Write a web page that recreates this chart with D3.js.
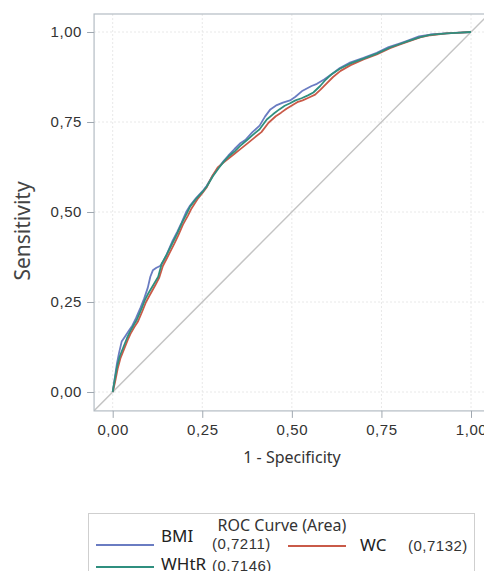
<!DOCTYPE html>
<html>
<head>
<meta charset="utf-8">
<script src="https://cdn.jsdelivr.net/npm/d3@7"></script>
<style>
  html, body { margin: 0; padding: 0; background: #fff; }
  svg { display: block; }
</style>
</head>
<body>
<svg id="chart" width="484" height="571"></svg>
<script>
// ROC curves: points are [1 - specificity, sensitivity]
const seriesNames = ["BMI", "WC", "WHtR"];
const seriesAreas = ["0,7211", "0,7132", "0,7146"];
const seriesColors = ["#6a7cc2", "#c95a48", "#2f8f7f"];

const bmiPoints = [[0,0],[0.006,0.04],[0.012,0.08],[0.018,0.11],[0.025,0.14],[0.035,0.155],[0.045,0.17],[0.055,0.185],[0.065,0.205],[0.078,0.235],[0.088,0.26],[0.098,0.29],[0.105,0.32],[0.112,0.338],[0.122,0.345],[0.132,0.35],[0.14,0.36],[0.152,0.385],[0.167,0.42],[0.18,0.445],[0.192,0.47],[0.205,0.5],[0.216,0.518],[0.232,0.538],[0.25,0.557],[0.262,0.572],[0.28,0.602],[0.295,0.623],[0.31,0.642],[0.323,0.657],[0.34,0.675],[0.355,0.69],[0.37,0.7],[0.39,0.722],[0.41,0.74],[0.425,0.765],[0.44,0.785],[0.458,0.797],[0.475,0.804],[0.495,0.81],[0.51,0.82],[0.53,0.837],[0.555,0.85],[0.57,0.856],[0.59,0.868],[0.61,0.882],[0.634,0.9],[0.66,0.914],[0.7,0.928],[0.737,0.942],[0.77,0.958],[0.8,0.968],[0.82,0.975],[0.855,0.988],[0.886,0.993],[0.93,0.996],[0.97,0.998],[1,1]];

const wcPoints = [[0,0],[0.006,0.025],[0.014,0.065],[0.022,0.095],[0.032,0.12],[0.042,0.145],[0.05,0.162],[0.06,0.18],[0.07,0.195],[0.083,0.225],[0.093,0.25],[0.104,0.27],[0.118,0.295],[0.13,0.318],[0.14,0.35],[0.153,0.375],[0.172,0.412],[0.183,0.435],[0.196,0.465],[0.21,0.49],[0.22,0.51],[0.236,0.535],[0.25,0.552],[0.262,0.568],[0.278,0.6],[0.293,0.624],[0.31,0.638],[0.325,0.65],[0.34,0.662],[0.358,0.676],[0.378,0.692],[0.395,0.706],[0.415,0.722],[0.435,0.748],[0.455,0.766],[0.47,0.776],[0.485,0.787],[0.5,0.796],[0.515,0.805],[0.53,0.81],[0.548,0.818],[0.565,0.826],[0.58,0.84],[0.598,0.858],[0.615,0.875],[0.636,0.892],[0.664,0.908],[0.7,0.924],[0.737,0.938],[0.774,0.955],[0.8,0.965],[0.82,0.972],[0.858,0.985],[0.886,0.991],[0.932,0.996],[0.97,0.998],[1,1]];

const whtrPoints = [[0,0],[0.005,0.03],[0.012,0.07],[0.02,0.1],[0.03,0.125],[0.04,0.15],[0.048,0.167],[0.058,0.185],[0.067,0.2],[0.08,0.23],[0.09,0.256],[0.1,0.275],[0.115,0.3],[0.127,0.32],[0.137,0.357],[0.15,0.38],[0.169,0.418],[0.18,0.44],[0.193,0.469],[0.207,0.496],[0.216,0.515],[0.234,0.538],[0.25,0.555],[0.262,0.57],[0.28,0.6],[0.295,0.621],[0.31,0.64],[0.323,0.654],[0.34,0.668],[0.355,0.683],[0.375,0.7],[0.392,0.715],[0.41,0.73],[0.43,0.757],[0.448,0.772],[0.465,0.785],[0.48,0.795],[0.495,0.802],[0.51,0.81],[0.527,0.816],[0.545,0.824],[0.56,0.832],[0.579,0.85],[0.595,0.868],[0.61,0.882],[0.634,0.898],[0.662,0.912],[0.7,0.926],[0.737,0.94],[0.774,0.957],[0.8,0.966],[0.82,0.973],[0.858,0.986],[0.886,0.992],[0.932,0.996],[0.97,0.998],[1,1]];

const tickValues = [0, 0.25, 0.5, 0.75, 1];
const tickLabels = ["0,00", "0,25", "0,50", "0,75", "1,00"];

const curves = [
  { name: seriesNames[0], area: seriesAreas[0], color: seriesColors[0], points: bmiPoints },
  { name: seriesNames[1], area: seriesAreas[1], color: seriesColors[1], points: wcPoints },
  { name: seriesNames[2], area: seriesAreas[2], color: seriesColors[2], points: whtrPoints }
];

const svg = d3.select("#chart");

// plot frame spans -0.052 .. 1.05 on both axes
const x = d3.scaleLinear().domain([0, 1]).range([112.7, 471]);
const y = d3.scaleLinear().domain([0, 1]).range([392, 32]);
const frame = { left: x(-0.052), right: x(1.05), top: y(1.05), bottom: y(-0.0525) };

const tickFont = "'Liberation Sans Narrow', 'Liberation Sans', sans-serif";
const labelFont = "'Noto Sans', 'DejaVu Sans', sans-serif";

// grid
const grid = svg.append("g").attr("stroke", "#e8e8e8").attr("stroke-width", 1).attr("stroke-dasharray", "2,2");
grid.selectAll("line.gx").data(tickValues).join("line")
  .attr("x1", d => x(d)).attr("x2", d => x(d))
  .attr("y1", frame.top).attr("y2", frame.bottom);
grid.selectAll("line.gy").data(tickValues).join("line")
  .attr("y1", d => y(d)).attr("y2", d => y(d))
  .attr("x1", frame.left).attr("x2", frame.right);

// chance diagonal, clipped to the frame
svg.append("clipPath").attr("id", "plotClip").append("rect")
  .attr("x", frame.left).attr("y", frame.top)
  .attr("width", frame.right - frame.left).attr("height", frame.bottom - frame.top);

const plot = svg.append("g").attr("clip-path", "url(#plotClip)");
plot.append("line")
  .attr("x1", x(-0.1)).attr("y1", y(-0.1))
  .attr("x2", x(1.1)).attr("y2", y(1.1))
  .attr("stroke", "#c4c4c4").attr("stroke-width", 1.5);

const line = d3.line().x(d => x(d[0])).y(d => y(d[1]));
plot.selectAll("path.roc").data(curves).join("path")
  .attr("class", "roc")
  .attr("d", d => line(d.points))
  .attr("fill", "none")
  .attr("stroke", d => d.color)
  .attr("stroke-width", 1.8)
  .attr("stroke-linejoin", "round");

// frame
svg.append("rect")
  .attr("x", frame.left).attr("y", frame.top)
  .attr("width", frame.right - frame.left).attr("height", frame.bottom - frame.top)
  .attr("fill", "none").attr("stroke", "#b4bcc3").attr("stroke-width", 1.2);

// axes
const fmt = d => tickLabels[tickValues.indexOf(d)];
const xAxis = svg.append("g")
  .attr("transform", `translate(0,${frame.bottom})`)
  .call(d3.axisBottom(x).tickValues(tickValues).tickFormat(fmt).tickSize(7).tickPadding(6));
const yAxis = svg.append("g")
  .attr("transform", `translate(${frame.left},0)`)
  .call(d3.axisLeft(y).tickValues(tickValues).tickFormat(fmt).tickSize(7).tickPadding(5));

[xAxis, yAxis].forEach(a => {
  a.select(".domain").remove();
  a.selectAll(".tick line").attr("stroke", "#a0a8b0");
  a.selectAll(".tick text")
    .attr("fill", "#333")
    .style("font-family", tickFont)
    .style("font-size", "15px")
    .style("letter-spacing", "0.6px");
});

// axis titles
svg.append("text")
  .attr("x", 292).attr("y", 463)
  .attr("text-anchor", "middle")
  .attr("fill", "#333")
  .style("font-family", labelFont).style("font-size", "16px")
  .text("1 - Specificity");

svg.append("text")
  .attr("transform", "translate(30,231) rotate(-90)")
  .attr("text-anchor", "middle")
  .attr("fill", "#444")
  .style("font-family", labelFont).style("font-size", "21px")
  .text("Sensitivity");

// legend
const legend = svg.append("g");
legend.append("rect")
  .attr("x", 88.5).attr("y", 513.5).attr("width", 386).attr("height", 80)
  .attr("fill", "none").attr("stroke", "#cfcfcf").attr("stroke-width", 1);

legend.append("text")
  .attr("x", 282).attr("y", 531)
  .attr("text-anchor", "middle").attr("fill", "#333")
  .style("font-family", labelFont).style("font-size", "16px")
  .text("ROC Curve (Area)");

const legendItems = [
  { c: curves[0], lx: 96, ly: 545, tx: 161, ty: 542, ax: 212, ay: 549 },
  { c: curves[1], lx: 288, ly: 546, tx: 360, ty: 551, ax: 408, ay: 551 },
  { c: curves[2], lx: 96, ly: 567, tx: 161, ty: 570, ax: 212, ay: 571 }
];
legendItems.forEach(it => {
  legend.append("line")
    .attr("x1", it.lx).attr("x2", it.lx + 58)
    .attr("y1", it.ly).attr("y2", it.ly)
    .attr("stroke", it.c.color).attr("stroke-width", 1.8);
  legend.append("text")
    .attr("x", it.tx).attr("y", it.ty).attr("fill", "#222")
    .style("font-family", labelFont).style("font-size", "17px")
    .text(it.c.name);
  legend.append("text")
    .attr("x", it.ax).attr("y", it.ay).attr("fill", "#333")
    .style("font-family", tickFont).style("font-size", "15px")
    .style("letter-spacing", "0.5px")
    .text(`(${it.c.area})`);
});
</script>
</body>
</html>
